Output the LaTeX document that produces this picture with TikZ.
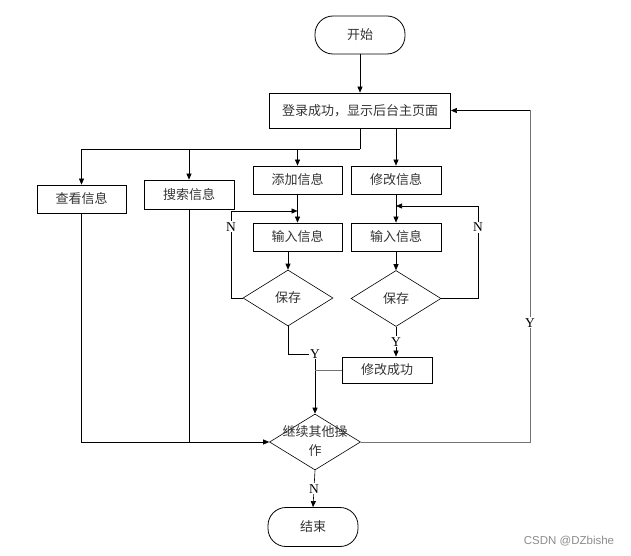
\documentclass[tikz,border=0pt]{standalone}
\usepackage{fontspec}
\setmainfont{Liberation Serif}
\newfontfamily\cjk{Noto Sans CJK SC}
\newfontfamily\wmfont{Liberation Sans}
\usetikzlibrary{shapes.geometric,arrows.meta}
\begin{document}
\begin{tikzpicture}[x=1pt,y=-1pt,
  txt/.style={font=\cjk\fontsize{13}{19}\selectfont, text=black!80},
  box/.style={txt, draw=black, line width=0.8pt, rectangle, inner sep=0pt},
  term/.style={box, rounded corners=18pt},
  dec/.style={txt, draw=black, line width=0.6pt, diamond, inner sep=0pt, minimum width=90pt, minimum height=56pt},
  line/.style={draw=black, line width=0.6pt},
  gline/.style={draw=black!55, line width=1pt},
  arr/.style={line, -{Triangle[length=6pt,width=5pt]}},
  lab/.style={fill=white, inner sep=1pt, font=\fontsize{13.5}{14}\selectfont}
]
\path[use as bounding box] (0,0) rectangle (631,556);

% nodes
\node[term, minimum width=90pt, minimum height=38pt] (start) at (360,35) {开始};
\node[box, minimum width=181pt, minimum height=35pt] (login) at (360,110.5) {登录成功，显示后台主页面};
\node[box, minimum width=89pt, minimum height=28pt] (view) at (81.5,199) {查看信息};
\node[box, minimum width=90pt, minimum height=29pt] (search) at (189,194.5) {搜索信息};
\node[box, minimum width=89pt, minimum height=28pt] (add) at (297.5,180) {添加信息};
\node[box, minimum width=90pt, minimum height=28pt] (modify) at (396,180) {修改信息};
\node[box, minimum width=89pt, minimum height=28pt] (in1) at (297.5,237) {输入信息};
\node[box, minimum width=90pt, minimum height=28pt] (in2) at (396,237) {输入信息};
\node[dec] (save1) at (288,298) {保存};
\node[dec] (save2) at (396,298.5) {保存};
\node[box, minimum width=90pt, minimum height=26pt] (ok) at (387,370) {修改成功};
\node[dec, minimum width=91pt] (cont) at (315,442) {};
\node[txt, align=center] (conttext) at (315,441) {继续其他操\\作};
\node[term, minimum width=90pt, minimum height=39pt] (end) at (313,527) {结束};

% coordinates
\coordinate (j1) at (360,149);
\coordinate (nl) at (231,211);
\coordinate (nr) at (478,206);
\coordinate (yc) at (315,354);
\coordinate (yr) at (530,442);

% connectors
\draw[arr] (start) -- (login);
\draw[line] (login.south) -- (j1);
\draw[arr] (j1) -| (view.north);
\draw[arr] (search.north |- j1) -- (search.north);
\draw[arr] (add.north |- j1) -- (add.north);
\draw[arr] (login.south -| modify.north) -- (modify.north);
\draw[arr] (add.south) -- (in1.north);
\draw[arr] (in1.south -| save1.north) -- (save1.north);
\draw[arr] (modify.south) -- (in2.north);
\draw[arr] (in2.south) -- (save2.north);

\draw[arr] (save1.west) -| node[lab, pos=0.91] (nlab1) {N} (nl) -- (nl -| in1.north);
\draw[arr] (save2.east) -| node[lab, pos=0.886] (nlab2) {N} (nr) -- (nr -| in2.north);

\draw[line] (save1.south) |- (yc);
\draw[arr, line width=0.9pt] (yc) -- (cont.north);
\node[lab] (ylab1) at (yc) {Y};
\draw[arr] (save2.south) -- node[lab] (ylab2) {Y} (save2.south |- ok.north);
\draw[gline] (ok.west) -- (ok.west -| cont.north);

\draw[arr] (view.south) |- (cont.west);
\draw[line] (search.south) -- (search.south |- cont.west);

\draw[gline] (cont.east) -- (yr) -- node[lab, pos=0.36] (ylab3) {Y} (yr |- login.east);
\draw[arr] (yr |- login.east) -- (login.east);

\draw[arr] (cont.south) -- node[lab] (nlab3) {N} (end.north);

\node[font=\wmfont\fontsize{11.5}{12}\selectfont, text=black!45] (wm) at (569,541) {CSDN @DZbishe};
\end{tikzpicture}
\end{document}
